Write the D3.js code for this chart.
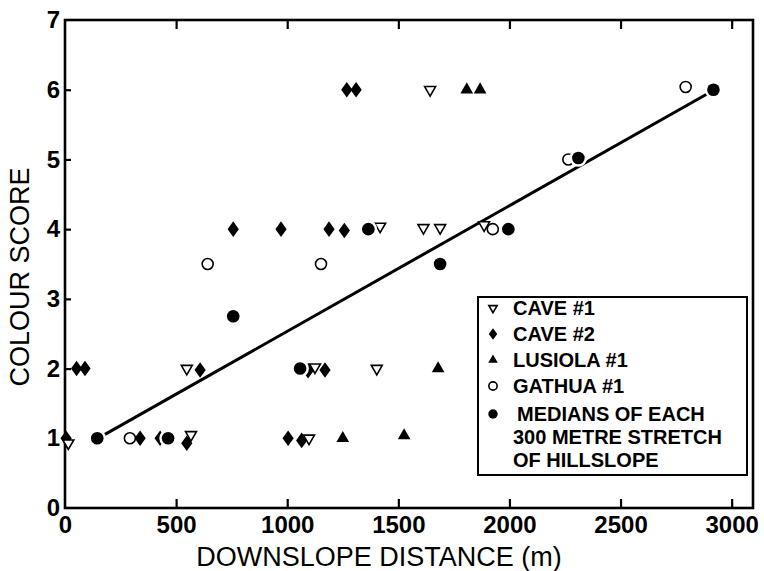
<!DOCTYPE html>
<html>
<head>
<meta charset="utf-8">
<script src="https://cdn.jsdelivr.net/npm/d3@7"></script>
<style>
  body { margin: 0; background: #fff; }
  text { font-family: "Liberation Sans", Arial, sans-serif; fill: #000; }
</style>
</head>
<body>
<div id="chart"></div>
<script>
// Data: [distance (m), colour score]
const cave1 = [[15, 0.93], [567, 1.05], [1098, 1], [548, 2], [1125, 2.02], [1403, 2],
  [1418, 4.04], [1613, 4.02], [1688, 4.02], [1886, 4.06], [1643, 6]];
const cave2 = [[5, 1], [338, 1], [428, 1], [548, 0.93], [1004, 1], [1065, 0.97],
  [52, 2], [90, 2], [608, 1.98], [1094, 1.97], [1170, 1.98],
  [757, 4], [972, 4], [1188, 4], [1257, 3.98], [1268, 6], [1310, 6]];
const lusiola = [[1250, 1], [1526, 1.04], [1679, 2], [1808, 6], [1868, 6]];
const gathua = [[292, 1], [642, 3.5], [1152, 3.5], [1925, 4], [2265, 5], [2793, 6.04]];
const medians = [[145, 1], [464, 1], [757, 2.75], [1058, 2], [1365, 4], [1688, 3.5],
  [1995, 4], [2310, 5.02], [2918, 6]];
// fitted line end points
const fitLine = [[160, 1.02], [2895, 5.95]];

const xTicks = [0, 500, 1000, 1500, 2000, 2500, 3000];
const yTicks = [0, 1, 2, 3, 4, 5, 6, 7];
const legendItems = [
  { key: "cave1", lines: ["CAVE #1"] },
  { key: "cave2", lines: ["CAVE #2"] },
  { key: "lusiola", lines: ["LUSIOLA #1"] },
  { key: "gathua", lines: ["GATHUA #1"] },
  { key: "median", lines: ["MEDIANS OF EACH", "300 METRE STRETCH", "OF HILLSLOPE"] }
];

const width = 764, height = 571;
const svg = d3.select("#chart").append("svg")
  .attr("width", width).attr("height", height);

const x = d3.scaleLinear().domain([0, 3096]).range([65, 753]);
const y = d3.scaleLinear().domain([0, 7]).range([508, 20]);

// symbol paths
const tri = d3.symbol().type(d3.symbolTriangle);
const dia = d3.symbol().type(d3.symbolDiamond);

// axes (ticks inward)
const axBottom = svg.append("g").attr("transform", "translate(0,508)")
  .call(d3.axisBottom(x).tickValues(xTicks).tickSize(-9).tickPadding(8).tickFormat(d3.format("d")));
const axTop = svg.append("g").attr("transform", "translate(0,20)")
  .call(d3.axisTop(x).tickValues(xTicks.slice(1)).tickSize(-9).tickFormat(""));
const axLeft = svg.append("g").attr("transform", "translate(65,0)")
  .call(d3.axisLeft(y).tickValues(yTicks).tickSize(-6).tickPadding(5).tickFormat(d3.format("d")));

[axBottom, axTop, axLeft].forEach(g => {
  g.select(".domain").remove();
  g.selectAll(".tick line").attr("stroke", "#000").attr("stroke-width", 2.2);
  g.selectAll(".tick text")
    .style("font-size", "24px").style("font-weight", "bold").attr("fill", "#000");
});
axLeft.selectAll(".tick").filter(d => d === 0 || d === 7).select("line").remove();
axBottom.selectAll(".tick").filter(d => d === 0).select("line").remove();

// frame
svg.append("rect")
  .attr("x", x(0)).attr("y", y(7))
  .attr("width", x(3096) - x(0)).attr("height", y(0) - y(7))
  .attr("fill", "none").attr("stroke", "#000").attr("stroke-width", 2.6);

// axis titles
svg.append("text")
  .attr("x", 379).attr("y", 566)
  .attr("text-anchor", "middle")
  .style("font-size", "27px")
  .text("DOWNSLOPE DISTANCE (m)");

svg.append("text")
  .attr("transform", "translate(29,277) rotate(-90)")
  .attr("text-anchor", "middle")
  .style("font-size", "27px")
  .text("COLOUR SCORE");

// fitted line
svg.append("line")
  .attr("x1", x(fitLine[0][0])).attr("y1", y(fitLine[0][1]))
  .attr("x2", x(fitLine[1][0])).attr("y2", y(fitLine[1][1]))
  .attr("stroke", "#000").attr("stroke-width", 3);

// markers
function drawMarker(g, key, scale) {
  const s = scale || 1;
  if (key === "cave1") {
    g.append("path").attr("d", tri.size(52 * s * s)())
      .attr("transform", "rotate(180)")
      .attr("fill", "#fff").attr("stroke", "#000").attr("stroke-width", 1.6);
  } else if (key === "cave2") {
    g.append("path").attr("d", dia.size(70 * s * s)())
      .attr("transform", "scale(1.25,1)")
      .attr("fill", "#000");
  } else if (key === "lusiola") {
    g.append("path").attr("d", tri.size(70 * s * s)())
      .attr("fill", "#000");
  } else if (key === "gathua") {
    g.append("circle").attr("r", 5.5 * s)
      .attr("fill", "#fff").attr("stroke", "#000").attr("stroke-width", 1.6);
  } else {
    g.append("circle").attr("r", 6.3 * s)
      .attr("fill", "#000").attr("stroke", "#fff").attr("stroke-width", 5)
      .style("paint-order", "stroke");
  }
}

const series = [
  { key: "cave2", data: cave2 },
  { key: "lusiola", data: lusiola },
  { key: "cave1", data: cave1 },
  { key: "gathua", data: gathua },
  { key: "median", data: medians }
];

series.forEach(sr => {
  svg.append("g").selectAll("g")
    .data(sr.data)
    .enter()
    .append("g")
    .attr("transform", d => `translate(${x(d[0])},${y(d[1])})`)
    .each(function () { drawMarker(d3.select(this), sr.key); });
});

// legend
const legend = svg.append("g");
legend.append("rect")
  .attr("x", 478).attr("y", 297).attr("width", 269).attr("height", 178)
  .attr("fill", "#fff").attr("stroke", "#000").attr("stroke-width", 2);

const rowY = [308, 334, 360, 386, 414];
const lineGap = [0, 23, 46];
legendItems.forEach((it, i) => {
  const g = legend.append("g").attr("transform", `translate(493,${rowY[i]})`);
  drawMarker(g, it.key, 0.75);
  it.lines.forEach((t, j) => {
    legend.append("text")
      .attr("x", it.key === "median" && j === 0 ? 517 : 513)
      .attr("y", rowY[i] + lineGap[j])
      .attr("dy", "0.36em")
      .style("font-size", "20px").style("font-weight", "bold")
      .text(t);
  });
});
</script>
</body>
</html>
